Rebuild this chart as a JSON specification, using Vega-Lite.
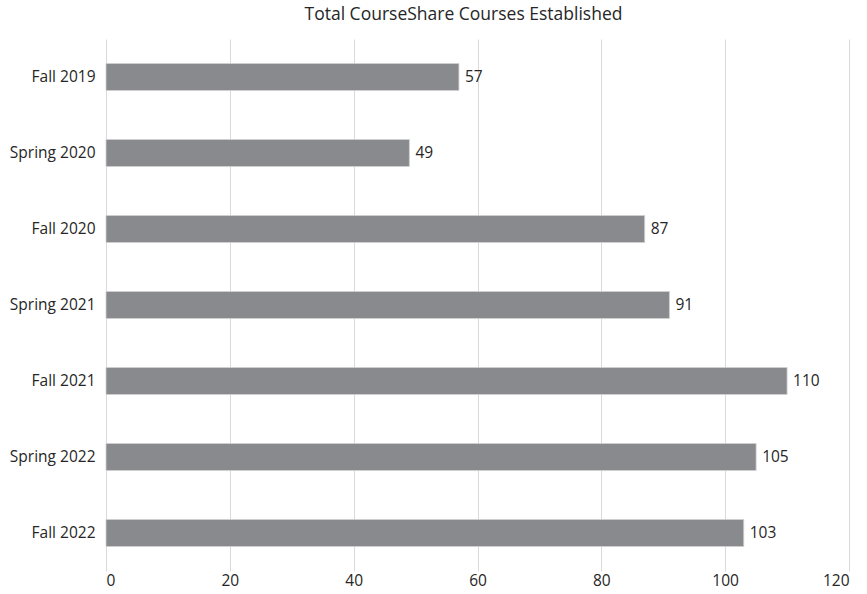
{
  "$schema": "https://vega.github.io/schema/vega-lite/v6.json",
  "autosize": "none",
  "padding": {"left": 106, "top": 39, "right": 18, "bottom": 23},
  "width": 743,
  "height": 532,
  "background": "white",
  "title": {
    "text": "Total CourseShare Courses Established",
    "font": "Open Sans",
    "fontSize": 17.5,
    "fontWeight": "normal",
    "color": "#262626",
    "anchor": "middle",
    "dx": -14,
    "offset": 16
  },
  "data": {
    "values": [
      {"term": "Fall 2019", "courses": 57},
      {"term": "Spring 2020", "courses": 49},
      {"term": "Fall 2020", "courses": 87},
      {"term": "Spring 2021", "courses": 91},
      {"term": "Fall 2021", "courses": 110},
      {"term": "Spring 2022", "courses": 105},
      {"term": "Fall 2022", "courses": 103}
    ]
  },
  "encoding": {
    "y": {
      "field": "term",
      "type": "nominal",
      "sort": null,
      "title": null,
      "scale": {"paddingInner": 0.645, "paddingOuter": 0.3225},
      "axis": {
        "domain": false,
        "ticks": false,
        "labelPadding": 11,
        "labelFont": "Open Sans",
        "labelFontSize": 15.5,
        "labelColor": "#262626"
      }
    },
    "x": {
      "field": "courses",
      "type": "quantitative",
      "title": null,
      "scale": {"domain": [0, 120], "nice": false},
      "axis": {
        "values": [0, 20, 40, 60, 80, 100, 120],
        "domain": false,
        "ticks": false,
        "grid": true,
        "gridColor": "#d9d9d9",
        "labelPadding": 2,
        "labelFont": "Open Sans",
        "labelFontSize": 15.5,
        "labelColor": "#262626"
      }
    }
  },
  "layer": [
    {"mark": {"type": "bar", "color": "#898a8d", "stroke": "#d0d0d0", "strokeWidth": 0.8}},
    {
      "mark": {"type": "text", "align": "left", "dx": 6, "font": "Open Sans", "fontSize": 15.5, "color": "#262626"},
      "encoding": {"text": {"field": "courses", "type": "quantitative"}}
    }
  ],
  "config": {"view": {"stroke": null}}
}
